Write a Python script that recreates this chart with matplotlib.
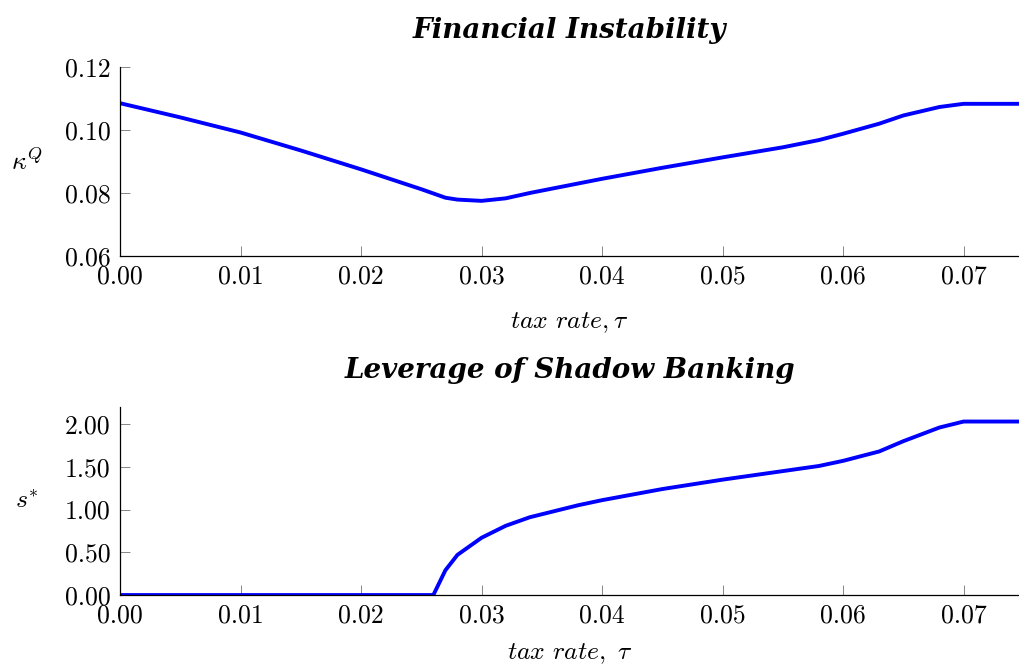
import matplotlib
matplotlib.use("Agg")
import matplotlib.pyplot as plt
from matplotlib.ticker import FormatStrFormatter, MultipleLocator

plt.rcParams["font.family"] = "serif"
plt.rcParams["font.serif"] = ["cmr10", "DejaVu Serif"]
plt.rcParams["mathtext.fontset"] = "cm"
plt.rcParams["axes.formatter.use_mathtext"] = True

# ---- data ----
tau_k = [0.0, 0.005, 0.01, 0.015, 0.02, 0.025, 0.027, 0.028, 0.03, 0.032, 0.034,
         0.038, 0.04, 0.045, 0.05, 0.055, 0.058, 0.06, 0.063, 0.065, 0.068, 0.07, 0.075]
kappa_q = [0.1085, 0.1040, 0.0992, 0.0935, 0.0875, 0.0812, 0.0785, 0.0779, 0.0775,
           0.0783, 0.0800, 0.0830, 0.0845, 0.0880, 0.0913, 0.0945, 0.0968, 0.0988,
           0.1020, 0.1046, 0.1073, 0.1083, 0.1083]

tau_s = [0.0, 0.026, 0.027, 0.028, 0.030, 0.032, 0.034, 0.038, 0.040, 0.045, 0.050,
         0.055, 0.058, 0.060, 0.063, 0.065, 0.068, 0.070, 0.075]
s_star = [0.0, 0.0, 0.29, 0.47, 0.67, 0.81, 0.91, 1.05, 1.11, 1.24, 1.35, 1.45,
          1.51, 1.57, 1.68, 1.80, 1.96, 2.03, 2.03]

xticks = [0.0, 0.01, 0.02, 0.03, 0.04, 0.05, 0.06, 0.07]

fig = plt.figure(figsize=(10.19, 6.67), dpi=100)
ax1 = fig.add_axes([0.1178, 0.6162, 0.8822, 0.2834])
ax2 = fig.add_axes([0.1178, 0.1079, 0.8822, 0.2819])

title_font = dict(family="DejaVu Serif", style="italic", weight="bold", size=20)


def style(ax):
    for s in ["top", "right"]:
        ax.spines[s].set_visible(False)
    for s in ["left", "bottom"]:
        ax.spines[s].set_linewidth(0.9)
    ax.tick_params(direction="in", length=7, width=0.6, color="0.45",
                   labelsize=18.5)
    ax.tick_params(axis="x", pad=6)
    ax.tick_params(axis="y", pad=7)
    ax.set_xticks(xticks)
    ax.xaxis.set_major_formatter(FormatStrFormatter("%.2f"))
    ax.set_xlim(0, 0.0746)


ax1.plot(tau_k, kappa_q, color="#0000ff", lw=2.8, solid_joinstyle="round")
style(ax1)
ax1.set_ylim(0.06, 0.12)
ax1.yaxis.set_major_locator(MultipleLocator(0.02))
ax1.yaxis.set_major_formatter(FormatStrFormatter("%.2f"))
ax1.set_title("Financial Instability", fontdict=title_font, pad=21)
ax1.set_xlabel(r"$\mathit{tax\ rate},\tau$", fontsize=18.5, labelpad=16)
ax1.set_ylabel(r"$\kappa^Q$", fontsize=18.5, rotation=0, labelpad=27, va="center")

ax2.plot(tau_s, s_star, color="#0000ff", lw=2.8, solid_joinstyle="round")
style(ax2)
ax2.set_ylim(0, 2.2)
ax2.set_yticks([0.0, 0.5, 1.0, 1.5, 2.0])
ax2.yaxis.set_major_formatter(FormatStrFormatter("%.2f"))
ax2.set_title("Leverage of Shadow Banking", fontdict=title_font, pad=21)
ax2.set_xlabel(r"$\mathit{tax\ rate},\ \tau$", fontsize=18.5, labelpad=10)
ax2.set_ylabel(r"$s^{*}$", fontsize=18.5, rotation=0, labelpad=27, va="center")

plt.savefig("out.png", dpi=100)
